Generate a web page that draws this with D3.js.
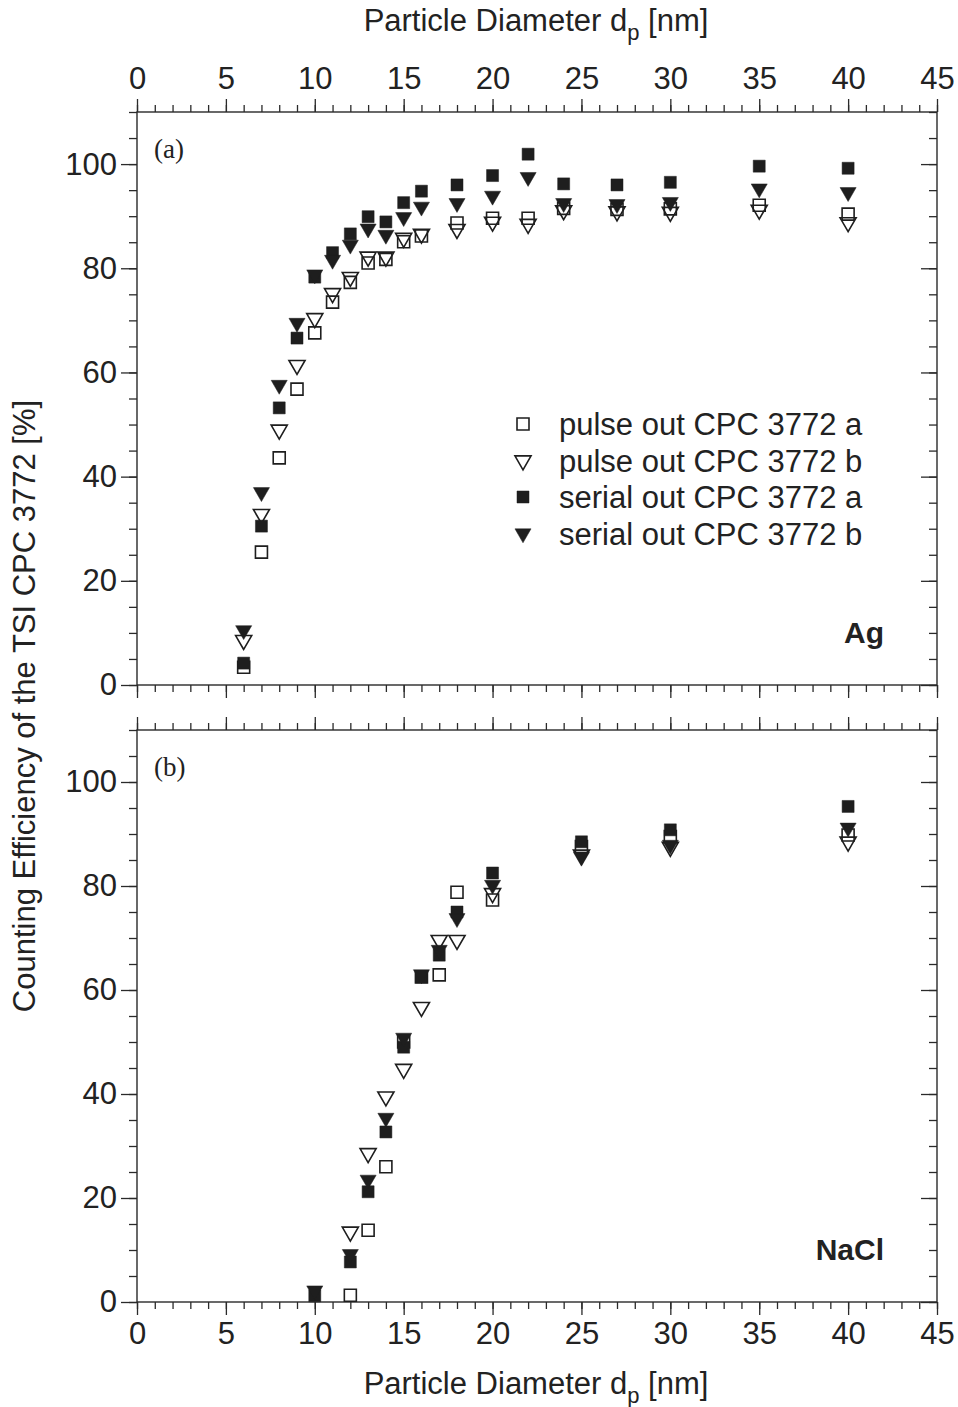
<!DOCTYPE html>
<html>
<head>
<meta charset="utf-8">
<script src="https://cdn.jsdelivr.net/npm/d3@7"></script>
<style>
  body { margin: 0; background: #fff; }
  text { fill: #222; }
</style>
</head>
<body>
<div id="chart"></div>
<script>
// panel (a) Ag
var xAg = [6, 7, 8, 9, 10, 11, 12, 13, 14, 15, 16, 18, 20, 22, 24, 27, 30, 35, 40]
var pulseA_Ag  = [3.4, 25.5, 43.6, 56.8, 67.6, 73.5, 77.3, 81.0, 81.7, 85.1, 86.2, 88.7, 89.6, 89.6, 91.5, 91.3, 91.4, 92.1, 90.4]
var pulseB_Ag  = [8.6, 32.8, 49.0, 61.4, 70.4, 75.2, 78.3, 82.2, 82.2, 85.8, 86.6, 87.5, 88.9, 88.5, 91.1, 90.9, 90.8, 91.2, 88.8]
var serialA_Ag = [4.2, 30.5, 53.2, 66.6, 78.3, 83.0, 86.6, 89.9, 88.9, 92.6, 94.8, 96.0, 97.8, 101.9, 96.2, 96.0, 96.5, 99.6, 99.2]
var serialB_Ag = [10.5, 37.0, 57.6, 69.5, 78.8, 81.6, 84.5, 87.6, 86.4, 89.8, 91.8, 92.5, 93.9, 97.5, 92.5, 92.3, 92.7, 95.3, 94.6]

// panel (b) NaCl
var xNaCl = [10, 12, 13, 14, 15, 16, 17, 18, 20, 25, 30, 40]
var pulseA_NaCl  = [null, 1.3, 13.8, 26.0, 50.0, 62.5, 62.9, 78.8, 77.3, 87.6, 89.5, 89.8]
var pulseB_NaCl  = [null, 13.5, 28.6, 39.5, 44.8, 56.7, 69.6, 69.6, 78.6, 86.0, 87.5, 88.5]
var serialA_NaCl = [1.2, 7.7, 21.2, 32.7, 49.0, 62.5, 66.7, 75.0, 82.5, 88.5, 90.8, 95.3]
var serialB_NaCl = [2.2, 9.2, 23.5, 35.4, 50.8, 63.0, 67.7, 73.8, 80.2, 85.6, 87.9, 91.2]

var legendLabels = ["pulse out CPC 3772 a", "pulse out CPC 3772 b", "serial out CPC 3772 a", "serial out CPC 3772 b"]
var xTicks = d3.range(0, 46, 5)
var yTicks = [0, 20, 40, 60, 80, 100]

var W = 958, H = 1407
var L = 137, R = 937
var ink = "#2a2a2a"
var fs = 31
var sans = '"Liberation Sans", Arial, sans-serif'

var svg = d3.select('#chart').append('svg')
  .attr('width', W)
  .attr('height', H)
  .attr('font-family', sans)

var x = d3.scaleLinear().domain([0, 45]).range([L, R])

// marker shapes: square and downward triangle, open or filled
var sq = d3.symbol().type(d3.symbolSquare).size(144)
var tri = d3.symbol().type(d3.symbolTriangle).size(112)

var series = [
  {key: 'pulseA',  shape: sq,  filled: false},
  {key: 'pulseB',  shape: tri, filled: false},
  {key: 'serialA', shape: sq,  filled: true},
  {key: 'serialB', shape: tri, filled: true}
]

function drawMarker(g, s, cx, cy) {
  var rot = s.shape === tri ? ' rotate(180)' : ''
  g.append('path')
    .attr('d', s.shape())
    .attr('transform', 'translate(' + cx + ',' + cy + ')' + rot)
    .attr('fill', s.filled ? '#1e1e1e' : 'none')
    .attr('stroke', '#1e1e1e')
    .attr('stroke-width', s.filled ? 0.5 : 1.6)
}

function drawPanel(top, bottom, xs, vals, showTop, showBottom, tag, name) {
  var y = d3.scaleLinear().domain([0, 110]).range([bottom, top])
  var g = svg.append('g')

  // x ticks top (outward)
  g.append('g').attr('transform', 'translate(0,' + top + ')')
    .call(d3.axisTop(x).tickValues(d3.range(0, 46)).tickSize(7).tickFormat(''))
  g.append('g').attr('transform', 'translate(0,' + top + ')')
    .call(d3.axisTop(x).tickValues(xTicks).tickSize(13).tickPadding(10)
      .tickFormat(showTop ? d3.format('d') : ''))

  // x ticks bottom (outward)
  g.append('g').attr('transform', 'translate(0,' + bottom + ')')
    .call(d3.axisBottom(x).tickValues(d3.range(0, 46)).tickSize(7).tickFormat(''))
  g.append('g').attr('transform', 'translate(0,' + bottom + ')')
    .call(d3.axisBottom(x).tickValues(xTicks).tickSize(13).tickPadding(7)
      .tickFormat(showBottom ? d3.format('d') : ''))

  // y ticks left (outward)
  g.append('g').attr('transform', 'translate(' + L + ',0)')
    .call(d3.axisLeft(y).tickValues(d3.range(0, 111, 5)).tickSize(8).tickFormat(''))
  g.append('g').attr('transform', 'translate(' + L + ',0)')
    .call(d3.axisLeft(y).tickValues(yTicks).tickSize(16).tickPadding(4))

  // y ticks right (inward)
  g.append('g').attr('transform', 'translate(' + R + ',0)')
    .call(d3.axisLeft(y).tickValues(d3.range(0, 111, 5)).tickSize(8).tickFormat(''))
  g.append('g').attr('transform', 'translate(' + R + ',0)')
    .call(d3.axisLeft(y).tickValues(yTicks).tickSize(16).tickFormat(''))

  g.selectAll('.domain').remove()
  g.selectAll('.tick line').attr('stroke', ink).attr('stroke-width', 1.3)
  g.selectAll('.tick text')
    .attr('font-size', fs)
    .attr('font-family', sans)
    .attr('fill', '#222')

  // frame
  g.append('rect')
    .attr('x', L).attr('y', top)
    .attr('width', R - L).attr('height', bottom - top)
    .attr('fill', 'none')
    .attr('stroke', ink)
    .attr('stroke-width', 1.4)

  // points
  series.forEach(function(s) {
    var v = vals[s.key]
    for (var i = 0; i < xs.length; i++) {
      if (v[i] == null) continue
      drawMarker(g, s, x(xs[i]), y(v[i]))
    }
  })

  g.append('text')
    .attr('x', 154).attr('y', top + 46)
    .attr('font-family', '"Liberation Serif", "DejaVu Serif", serif')
    .attr('font-size', 27)
    .text(tag)

  g.append('text')
    .attr('x', 884).attr('y', bottom - 42)
    .attr('text-anchor', 'end')
    .attr('font-weight', 'bold')
    .attr('font-size', 30)
    .text(name)

  return y
}

drawPanel(112, 685, xAg,
  {pulseA: pulseA_Ag, pulseB: pulseB_Ag, serialA: serialA_Ag, serialB: serialB_Ag},
  true, false, '(a)', 'Ag')

drawPanel(730, 1302, xNaCl,
  {pulseA: pulseA_NaCl, pulseB: pulseB_NaCl, serialA: serialA_NaCl, serialB: serialB_NaCl},
  false, true, '(b)', 'NaCl')

// legend
var leg = svg.append('g')
legendLabels.forEach(function(lab, i) {
  var ly = 424 + i * 36.5
  drawMarker(leg, series[i], 523, ly)
  leg.append('text')
    .attr('x', 559).attr('y', ly + 11)
    .attr('font-size', fs)
    .text(lab)
})

// axis titles
function xTitle(yPos) {
  var t = svg.append('text')
    .attr('x', 536).attr('y', yPos)
    .attr('text-anchor', 'middle')
    .attr('font-size', fs)
  t.append('tspan').text('Particle Diameter d')
  t.append('tspan').attr('font-size', 22).attr('dy', 9).text('p')
  t.append('tspan').attr('dy', -9).text(' [nm]')
}
xTitle(31)
xTitle(1394)

svg.append('text')
  .attr('transform', 'translate(35,706) rotate(-90)')
  .attr('text-anchor', 'middle')
  .attr('font-size', fs)
  .text('Counting Efficiency of the TSI CPC 3772 [%]')
</script>
</body>
</html>
